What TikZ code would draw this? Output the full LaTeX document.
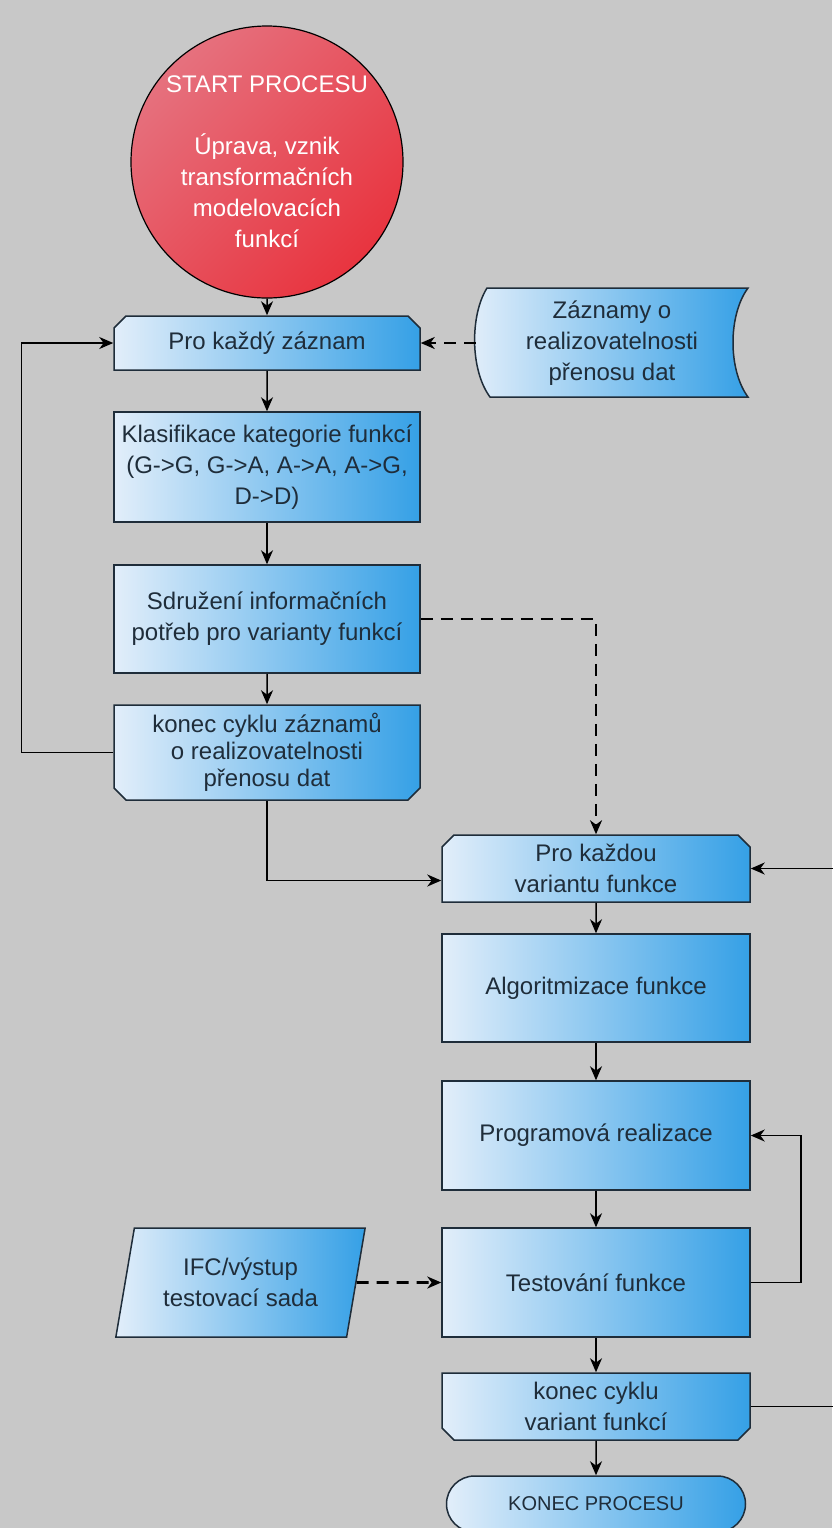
\documentclass[tikz,border=0pt]{standalone}
\usepackage{fontspec}
\setmainfont{Liberation Sans}
\usetikzlibrary{arrows.meta,shapes.misc,shapes.geometric}

\definecolor{pozadi}{HTML}{C8C8C8}
\definecolor{modra1}{HTML}{E2EEFA}
\definecolor{modra2}{HTML}{35A0E6}
\definecolor{cervena1}{HTML}{E6717E}
\definecolor{cervena2}{HTML}{E8343F}
\definecolor{okraj}{HTML}{1F2D3A}

\begin{document}
\begin{tikzpicture}[x=0.5pt,y=-0.5pt,>={Stealth[length=7pt,width=6pt,inset=2.2pt]},
	every node/.style={font=\fontsize{12}{15.5}\selectfont,text=okraj,align=center},
	blok/.style={draw=okraj,line width=0.75pt,left color=modra1,right color=modra2,inner sep=2pt,minimum width=153pt},
	cyklus/.style={blok,chamfered rectangle,inner sep=1pt,chamfered rectangle xsep=3pt,chamfered rectangle ysep=3pt},
	tok/.style={->,line width=0.75pt,draw=black},
	data/.style={->,line width=1.3pt,dash pattern=on 6pt off 4pt,draw=black}]
					\useasboundingbox (0,0) rectangle (832,1528);
					\fill[pozadi] (0,0) rectangle (832,1528);

					% zacatek
					\node (start) [circle,draw=black,line width=0.6pt,minimum size=136pt,inner sep=0pt,
						top color=cervena1,bottom color=cervena2,shading angle=45,text=white] at (267,162)
						{START PROCESU\\[15.5pt]Úprava, vznik\\transformačních\\modelovacích\\funkcí};

					% cyklus zaznamu
					\path[draw=okraj,line width=0.75pt,left color=modra1,right color=modra2]
						(487,288) .. controls (470,315) and (470,370) .. (490,397) -- (748,397)
						.. controls (728,370) and (728,315) .. (748,288) -- cycle;
					\node (zdroj) [minimum width=136pt,minimum height=54.5pt] at (612,343)
						{Záznamy o\\realizovatelnosti\\přenosu dat};
					\node (kaz1) [cyklus,chamfered rectangle corners={north west,north east},minimum height=27pt] at (267,343)
						{Pro každý záznam};
					\node (klas) [blok,rectangle,minimum height=55pt] at (267,467)
						{Klasifikace kategorie funkcí\\(G->G, G->A, A->A, A->G,\\D->D)};
					\node (sdruz) [blok,rectangle,minimum height=54pt] at (267,619)
						{Sdružení informačních\\potřeb pro varianty funkcí};
					\node (konec1) [cyklus,chamfered rectangle corners={south west,south east},minimum height=47.5pt,
						font=\fontsize{12}{13.5}\selectfont] at (267,752.5)
						{konec cyklu záznamů\\o realizovatelnosti\\přenosu dat};

					% cyklus variant
					\node (kaz2) [cyklus,chamfered rectangle corners={north west,north east},minimum width=154pt,minimum height=33.5pt] at (596,868.5)
						{Pro každou\\variantu funkce};
					\node (algo) [blok,rectangle,minimum width=154pt,minimum height=54pt] at (596,988)
						{Algoritmizace funkce};
					\node (prog) [blok,rectangle,minimum width=154pt,minimum height=54.5pt] at (596,1135.5)
						{Programová realizace};
					\node (test) [blok,rectangle,minimum width=154pt,minimum height=54.5pt] at (596,1282.5)
						{Testování funkce};
					\node (ifc) [blok,trapezium,trapezium left angle=76,trapezium right angle=104,trapezium stretches=true,
						minimum width=125.5pt,minimum height=54.5pt] at (240.5,1282.5)
						{IFC/výstup\\testovací sada};
					\node (konec2) [cyklus,chamfered rectangle corners={south west,south east},minimum width=154pt,minimum height=33.5pt] at (596,1406.5)
						{konec cyklu\\variant funkcí};
					\node (konec) [blok,rounded rectangle,minimum width=153.5pt,minimum height=28pt,
						font=\fontsize{10}{12}\selectfont] at (596,1504)
						{KONEC PROCESU};

					\draw[tok] (start) -- (kaz1);
					\draw[tok] (kaz1) -- (klas);
					\draw[tok] (klas) -- (sdruz);
					\draw[tok] (sdruz) -- (konec1);
					\draw[data] (zdroj.west) -- (kaz1.east);
					\draw[tok] (konec1.west) -- ++(-92,0) |- (kaz1.west);
					\draw[tok] (konec1.south) |- ([yshift=-6pt]kaz2.west);
					\draw[data] (sdruz.east) -| (kaz2.north);

					\draw[tok] (kaz2) -- (algo);
					\draw[tok] (algo) -- (prog);
					\draw[tok] (prog) -- (test);
					\draw[tok] (test) -- (konec2);
					\draw[tok] (konec2) -- (konec);
					\draw[tok] (test.east) -- ++(50,0) |- (prog.east);
					\draw[data] (ifc.east) -- (test.west);
					\draw[tok] (konec2.east) -- ++(100,0) |- (kaz2.east);
				\end{tikzpicture}
\end{document}
